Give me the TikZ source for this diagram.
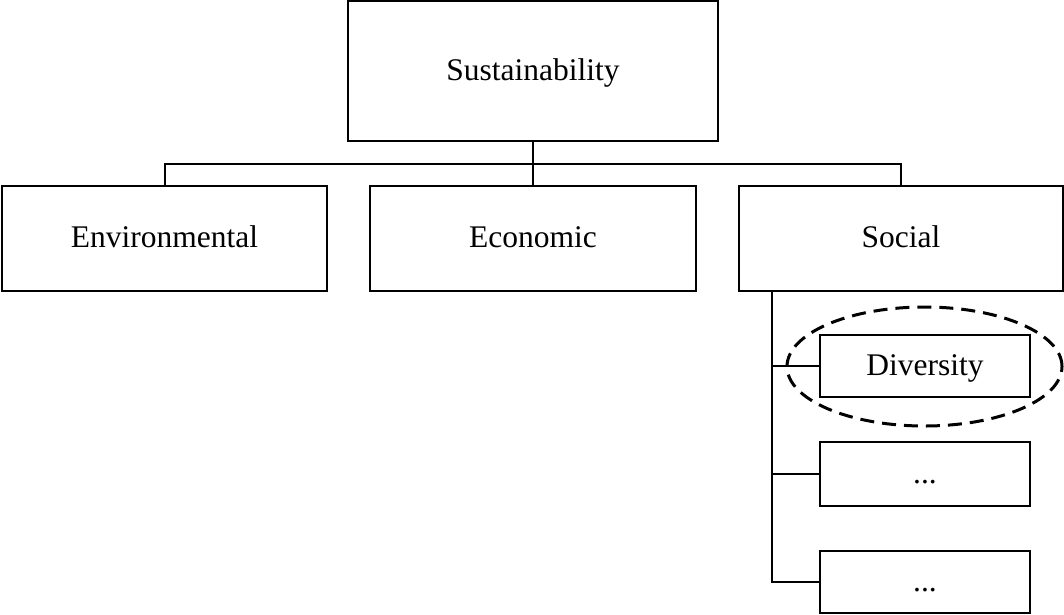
\documentclass[tikz,border=0pt]{standalone}
\usepackage{fontspec}
\setmainfont{Liberation Serif}
\usetikzlibrary{shapes.geometric}
\begin{document}
\begin{tikzpicture}[x=1pt,y=-1pt,
  box/.style={draw,line width=2pt,inner sep=0pt,text height=22pt,text depth=4pt,font=\fontsize{31.5}{36}\selectfont},
  smallbox/.style={box,minimum width=210pt},
  link/.style={line width=2pt},
  mark ring/.style={draw,ellipse,line width=3pt,dash pattern=on 14pt off 8pt,inner sep=0pt}]
\useasboundingbox (0,0) rectangle (1064,614);
\node[box,minimum width=370pt,minimum height=140pt] (top) at (533,71) {Sustainability};
\node[box,minimum width=325pt,minimum height=105pt] (env) at (164.5,238.5) {Environmental};
\node[box,minimum width=326pt,minimum height=105pt] (eco) at (533,238.5) {Economic};
\node[box,minimum width=324pt,minimum height=105pt] (soc) at (901,238.5) {Social};
\node[smallbox,minimum height=62pt] (div) at (925,366) {Diversity};
\node[smallbox,minimum height=64pt] (d2) at (925,474) {...};
\node[smallbox,minimum height=62pt] (d3) at (925,582) {...};
\node[mark ring,minimum width=275pt,minimum height=119pt] (hl) at (924.5,366.5) {};
\coordinate (bar) at (533,164);
\coordinate (br) at (772,291);
\draw[link] (top.south) -- (eco.north);
\draw[link] (env.north) -- (env.north |- bar) -- (soc.north |- bar) -- (soc.north);
\draw[link] (br) |- (d3.west);
\draw[link] (br |- div.west) -- (div.west);
\draw[link] (br |- d2.west) -- (d2.west);
\end{tikzpicture}
\end{document}
